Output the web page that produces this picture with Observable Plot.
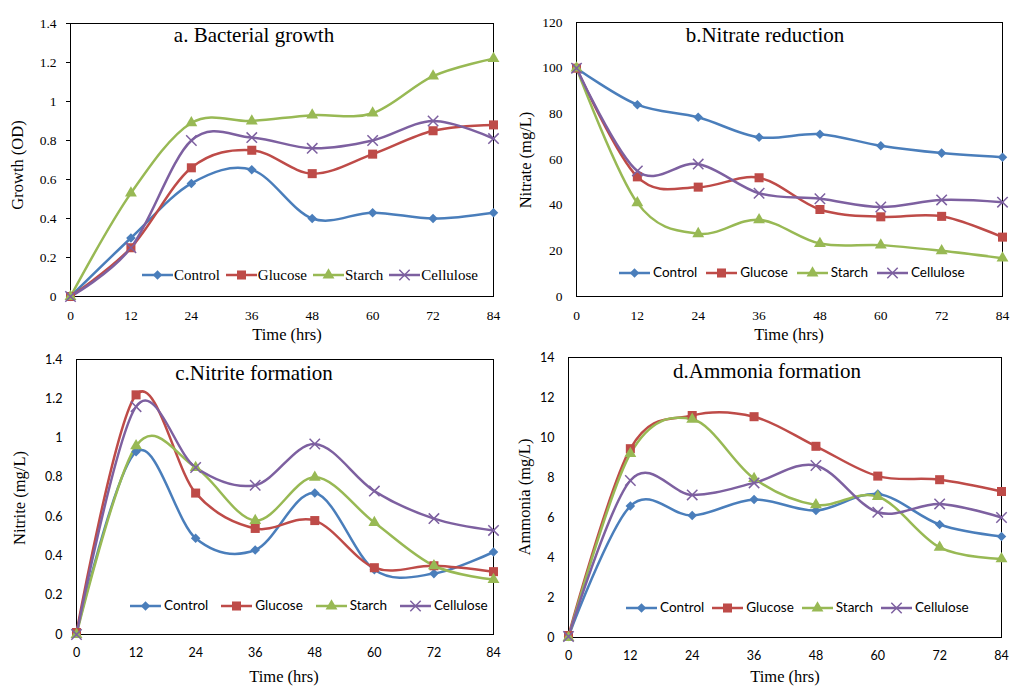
<!DOCTYPE html>
<html><head><meta charset="utf-8">
<script src="https://cdn.jsdelivr.net/npm/d3@7"></script>
<script src="https://cdn.jsdelivr.net/npm/@observablehq/plot@0.6"></script>
<style>
body{margin:0;background:#fff;}
#root{position:relative;width:1011px;height:686px;overflow:hidden;background:#fff}
.ov{position:absolute;white-space:nowrap;color:#000;line-height:1}
.serif{font-family:"Liberation Serif","Times New Roman",serif}
.sans{font-family:Lato,sans-serif}
.legend{position:absolute;display:flex;align-items:center;white-space:nowrap;line-height:1;color:#000}
.legend svg{display:block}
</style></head><body><div id="root"></div>
<script>
// ---------- data ----------
const hours = [0, 12, 24, 36, 48, 60, 72, 84];
const seriesNames = ["Control", "Glucose", "Starch", "Cellulose"];
const seriesColors = ["#4A7EBB", "#BE4B48", "#98B954", "#7D60A0"];

const growthControl   = [0, 0.30, 0.58, 0.65, 0.40, 0.43, 0.40, 0.43];
const growthGlucose   = [0, 0.25, 0.66, 0.75, 0.63, 0.73, 0.85, 0.88];
const growthStarch    = [0, 0.53, 0.89, 0.90, 0.93, 0.94, 1.13, 1.22];
const growthCellulose = [0, 0.25, 0.80, 0.815, 0.76, 0.80, 0.90, 0.81];

const nitrateControl   = [100, 84, 78.5, 69.7, 71.1, 66, 62.8, 61];
const nitrateGlucose   = [100, 52.4, 47.9, 52, 38.1, 34.9, 35.1, 26];
const nitrateStarch    = [100, 41, 27.5, 33.6, 23.2, 22.5, 20, 16.8];
const nitrateCellulose = [100, 55, 58, 45.2, 42.8, 39.2, 42.3, 41.3];

const nitriteControl   = [0.01, 0.93, 0.49, 0.43, 0.72, 0.33, 0.31, 0.42];
const nitriteGlucose   = [0.01, 1.22, 0.72, 0.54, 0.58, 0.34, 0.35, 0.32];
const nitriteStarch    = [0, 0.96, 0.85, 0.58, 0.80, 0.57, 0.35, 0.28];
const nitriteCellulose = [0, 1.16, 0.85, 0.76, 0.97, 0.73, 0.59, 0.53];

const ammoniaControl   = [0.05, 6.57, 6.1, 6.9, 6.35, 7.17, 5.65, 5.05];
const ammoniaGlucose   = [0.1, 9.44, 11.1, 11.04, 9.56, 8.07, 7.89, 7.3];
const ammoniaStarch    = [0, 9.19, 10.91, 7.95, 6.63, 7.05, 4.51, 3.93];
const ammoniaCellulose = [0.05, 7.85, 7.13, 7.73, 8.6, 6.26, 6.68, 6.0];

const growthTicks  = [0, 0.2, 0.4, 0.6, 0.8, 1, 1.2, 1.4];
const nitrateTicks = [0, 20, 40, 60, 80, 100, 120];
const nitriteTicks = [0, 0.2, 0.4, 0.6, 0.8, 1, 1.2, 1.4];
const ammoniaTicks = [0, 2, 4, 6, 8, 10, 12, 14];

const xTitle = "Time (hrs)";
const panelTitles = ["a. Bacterial growth", "b.Nitrate reduction", "c.Nitrite formation", "d.Ammonia formation"];
const yTitles = ["Growth (OD)", "Nitrate (mg/L)", "Nitrite (mg/L)", "Ammonia (mg/L)"];

// ---------- helpers ----------
const symbolFor = {Control: "diamond2", Glucose: "square", Starch: "triangle", Cellulose: "times"};
const rFor = {Control: 4.3, Glucose: 5.1, Starch: 4.4, Cellulose: 4.8};
const d3Sym = {Control: d3.symbolDiamond2, Glucose: d3.symbolSquare, Starch: d3.symbolTriangle, Cellulose: d3.symbolTimes};
const smoothCurve = d3.curveCatmullRom.alpha(0);

function tidy(arrs) {
  const rows = [];
  seriesNames.forEach((s, i) => hours.forEach((h, j) => rows.push({series: s, hour: h, value: arrs[i][j]})));
  return rows;
}

const root = document.getElementById("root");

function addText(text, cls, cx, cy, size, rotate) {
  const d = document.createElement("div");
  d.className = "ov " + cls;
  d.textContent = text;
  d.style.fontSize = size + "px";
  d.style.left = cx + "px";
  d.style.top = cy + "px";
  d.style.transform = "translate(-50%,-50%)" + (rotate ? " rotate(-90deg)" : "");
  root.appendChild(d);
}

function addLegend(left, cy, cls, size, gap, textGap) {
  const lg = document.createElement("div");
  lg.className = "legend " + cls;
  lg.style.left = left + "px";
  lg.style.top = (cy - 8) + "px";
  lg.style.height = "16px";
  lg.style.fontSize = size + "px";
  seriesNames.forEach((s, i) => {
    const svg = d3.create("svg").attr("width", 31).attr("height", 16);
    svg.append("line").attr("x1", 0).attr("x2", 31).attr("y1", 8).attr("y2", 8)
      .attr("stroke", seriesColors[i]).attr("stroke-width", 2.5);
    const path = d3.symbol(d3Sym[s], Math.PI * rFor[s] * rFor[s])();
    const p = svg.append("path").attr("d", path).attr("transform", "translate(15.5,8)");
    if (s === "Cellulose") p.attr("fill", "none").attr("stroke", seriesColors[i]).attr("stroke-width", 1.5);
    else p.attr("fill", seriesColors[i]);
    lg.appendChild(svg.node());
    const t = document.createElement("span");
    t.textContent = s;
    t.style.marginLeft = textGap + "px";
    if (i < seriesNames.length - 1) t.style.marginRight = gap + "px";
    lg.appendChild(t);
  });
  root.appendChild(lg);
}

const panels = [
  {data: tidy([growthControl, growthGlucose, growthStarch, growthCellulose]), ticks: growthTicks, ymax: 1.4,
   x0: 0, y0: 0, w: 505, h: 340, mL: 70, mR: 12, mT: 23, mB: 44, font: '"Liberation Serif", serif', fs: 13.5, yTick: 4},
  {data: tidy([nitrateControl, nitrateGlucose, nitrateStarch, nitrateCellulose]), ticks: nitrateTicks, ymax: 120,
   x0: 505, y0: 0, w: 506, h: 340, mL: 71, mR: 9, mT: 22, mB: 44, font: '"Liberation Serif", serif', fs: 13.5, yTick: 0},
  {data: tidy([nitriteControl, nitriteGlucose, nitriteStarch, nitriteCellulose]), ticks: nitriteTicks, ymax: 1.4,
   x0: 0, y0: 340, w: 505, h: 346, mL: 76, mR: 12, mT: 19, mB: 52, font: 'Lato, sans-serif', fs: 12.5, yTick: 0},
  {data: tidy([ammoniaControl, ammoniaGlucose, ammoniaStarch, ammoniaCellulose]), ticks: ammoniaTicks, ymax: 14,
   x0: 505, y0: 340, w: 506, h: 346, mL: 63, mR: 10, mT: 17, mB: 49, font: 'Lato, sans-serif', fs: 12.5, yTick: 0}
];

panels.forEach(p => {
  const chart = Plot.plot({
    width: p.w, height: p.h,
    marginLeft: p.mL, marginRight: p.mR, marginTop: p.mT, marginBottom: p.mB,
    style: {fontFamily: p.font, fontSize: p.fs + "px", color: "black", background: "transparent", overflow: "visible"},
    x: {domain: [0, 84], ticks: hours, tickSize: 0, tickPadding: 14, label: null},
    y: {domain: [0, p.ymax], ticks: p.ticks, tickSize: p.yTick, tickPadding: 14 - p.yTick, tickFormat: d => String(d), label: null},
    color: {domain: seriesNames, range: seriesColors},
    marks: [
      Plot.frame({stroke: "black", strokeWidth: 1}),
      Plot.line(p.data, {x: "hour", y: "value", z: "series", stroke: "series", curve: smoothCurve, strokeWidth: 2.5}),
      ...seriesNames.map(s => Plot.dot(p.data.filter(d => d.series === s), {
        x: "hour", y: "value", symbol: () => symbolFor[s], r: rFor[s],
        fill: s === "Cellulose" ? "none" : "series",
        stroke: s === "Cellulose" ? "series" : "none",
        strokeWidth: 1.5
      }))
    ]
  });
  chart.querySelectorAll("text").forEach(t => {
    t.setAttribute("font-family", p.font);
    t.style.fontFamily = p.font;
    t.style.fontSize = p.fs + "px";
  });
  chart.style.position = "absolute";
  chart.style.left = p.x0 + "px";
  chart.style.top = p.y0 + "px";
  root.appendChild(chart);
});

// titles and axis titles
addText(panelTitles[0], "serif", 254, 35, 21);
addText(panelTitles[1], "serif", 765, 35, 21);
addText(panelTitles[2], "serif", 254, 373, 21);
addText(panelTitles[3], "serif", 767, 371, 21);

addText(yTitles[0], "serif", 18, 165, 16.5, true);
addText(yTitles[1], "serif", 526, 160, 16.5, true);
addText(yTitles[2], "serif", 20, 498, 16.5, true);
addText(yTitles[3], "serif", 525, 497, 16.5, true);

addText(xTitle, "serif", 287, 335, 16.5);
addText(xTitle, "serif", 789, 335, 16.5);
addText(xTitle, "serif", 284, 677, 16.5);
addText(xTitle, "serif", 785, 677, 16.5);

// legends
addLegend(142, 275, "serif", 15, 6, 1);
addLegend(619, 273, "sans", 13.5, 9, 3);
addLegend(130, 606, "sans", 13.5, 13, 3);
addLegend(626, 608, "sans", 13.5, 8, 3);
</script></body></html>
